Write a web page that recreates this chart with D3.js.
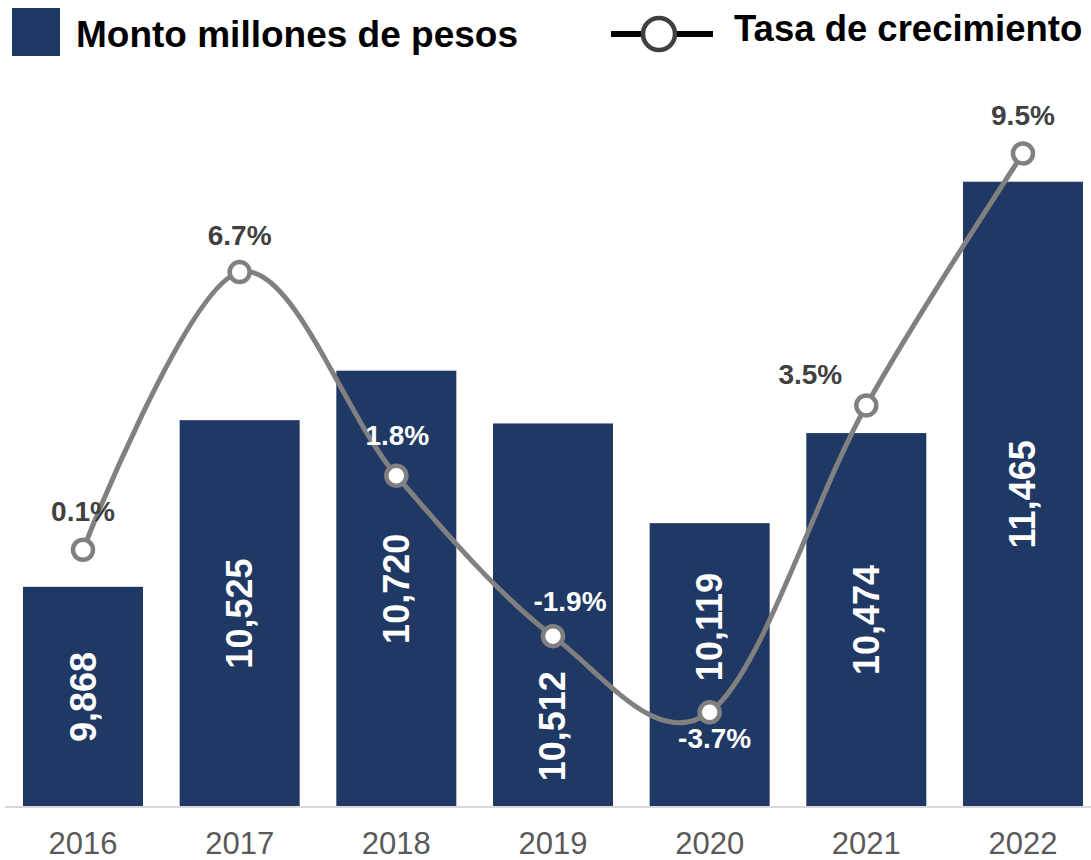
<!DOCTYPE html>
<html>
<head>
<meta charset="utf-8">
<script src="https://cdn.jsdelivr.net/npm/d3@7"></script>
<style>
  html, body { margin: 0; padding: 0; background: #ffffff; }
  svg { display: block; font-family: "Liberation Sans", Arial, sans-serif; }
</style>
</head>
<body>
<svg id="chart" width="1091" height="860"></svg>
<script>
// ---- data ----
const years = ["2016", "2017", "2018", "2019", "2020", "2021", "2022"];
const montos = [9868, 10525, 10720, 10512, 10119, 10474, 11465];
const tasas = [0.1, 6.66, 1.85, -1.94, -3.74, 3.51, 9.46];
const montoLabels = ["9,868", "10,525", "10,720", "10,512", "10,119", "10,474", "11,465"];
const tasaLabels = ["0.1%", "6.7%", "1.8%", "-1.9%", "-3.7%", "3.5%", "9.5%"];
const seriesNames = ["Monto millones de pesos", "Tasa de crecimiento"];

// ---- label placement tweaks (pixels) ----
const montoLabelNudge = [0, 0, 0, 111, -38, 0, 0];
const tasaLabelDx = [0, 0, 1, 17, 5, -56, 0];
const tasaLabelDy = [-38, -37, -40, -35, 26, -31, -38];
const tasaLabelOnBar = [false, false, true, true, true, false, false];

// ---- styles ----
const barColor = "#203864";
const lineColor = "#808080";
const labelGray = "#404040";

const svg = d3.select("#chart");

const x = d3.scaleBand().domain(years).range([4.67, 1101.3]).paddingInner(0.234).paddingOuter(0.117);
const yBar = d3.scaleLinear().domain([9000, 12000]).range([807, 46]);
const yLine = d3.scaleLinear().domain([-6, 12]).range([808, 46]);

// bars
svg.append("g").selectAll("rect").data(montos).join("rect")
  .attr("x", (d, i) => x(years[i]))
  .attr("y", d => yBar(d))
  .attr("width", x.bandwidth())
  .attr("height", d => yBar(9000) - yBar(d))
  .attr("fill", barColor);

// x axis
const xAxis = svg.append("g").attr("transform", "translate(0,807)")
  .call(d3.axisBottom(x).tickSize(0).tickPadding(0));
xAxis.select(".domain").attr("d", "M5,0H1091").attr("stroke", "#d9d9d9").attr("stroke-width", 2);
xAxis.selectAll(".tick text")
  .attr("y", 47).attr("dy", 0)
  .attr("font-size", 31).attr("fill", "#595959")
  .attr("font-family", "Liberation Sans, Arial, sans-serif");

// bar value labels (rotated)
svg.append("g").selectAll("text").data(montos).join("text")
  .attr("transform", (d, i) => {
    const cx = x(years[i]) + x.bandwidth() / 2;
    const cy = (yBar(d) + yBar(9000)) / 2 + montoLabelNudge[i];
    return `translate(${cx},${cy}) rotate(-90)`;
  })
  .attr("text-anchor", "middle")
  .attr("dominant-baseline", "central")
  .attr("fill", "#ffffff")
  .attr("font-weight", "bold")
  .attr("font-size", 36)
  .text((d, i) => montoLabels[i]);

// growth line
const line = d3.line()
  .x((d, i) => x(years[i]) + x.bandwidth() / 2)
  .y(d => yLine(d))
  .curve(d3.curveCardinal.tension(0));
svg.append("path").datum(tasas)
  .attr("d", line)
  .attr("fill", "none")
  .attr("stroke", lineColor)
  .attr("stroke-width", 5);

svg.append("g").selectAll("circle").data(tasas).join("circle")
  .attr("cx", (d, i) => x(years[i]) + x.bandwidth() / 2)
  .attr("cy", d => yLine(d))
  .attr("r", 10)
  .attr("fill", "#ffffff")
  .attr("stroke", lineColor)
  .attr("stroke-width", 4.5);

svg.append("g").selectAll("text").data(tasas).join("text")
  .attr("x", (d, i) => x(years[i]) + x.bandwidth() / 2 + tasaLabelDx[i])
  .attr("y", (d, i) => yLine(d) + tasaLabelDy[i])
  .attr("text-anchor", "middle")
  .attr("dominant-baseline", "central")
  .attr("fill", (d, i) => tasaLabelOnBar[i] ? "#ffffff" : labelGray)
  .attr("font-weight", "bold")
  .attr("font-size", 28)
  .text((d, i) => tasaLabels[i]);

// legend
const leg = svg.append("g");
leg.append("rect").attr("x", 12).attr("y", 8).attr("width", 48).attr("height", 48).attr("fill", barColor);
leg.append("text").attr("x", 76).attr("y", 47)
  .attr("font-size", 37).attr("font-weight", "bold").attr("fill", "#000000")
  .text(seriesNames[0]);
leg.append("line").attr("x1", 611).attr("x2", 713).attr("y1", 34).attr("y2", 34)
  .attr("stroke", "#000000").attr("stroke-width", 6);
leg.append("circle").attr("cx", 659).attr("cy", 34).attr("r", 16)
  .attr("fill", "#ffffff").attr("stroke", "#404040").attr("stroke-width", 4.5);
leg.append("text").attr("x", 734).attr("y", 41)
  .attr("font-size", 36.5).attr("font-weight", "bold").attr("fill", "#000000")
  .text(seriesNames[1]);
</script>
</body>
</html>
